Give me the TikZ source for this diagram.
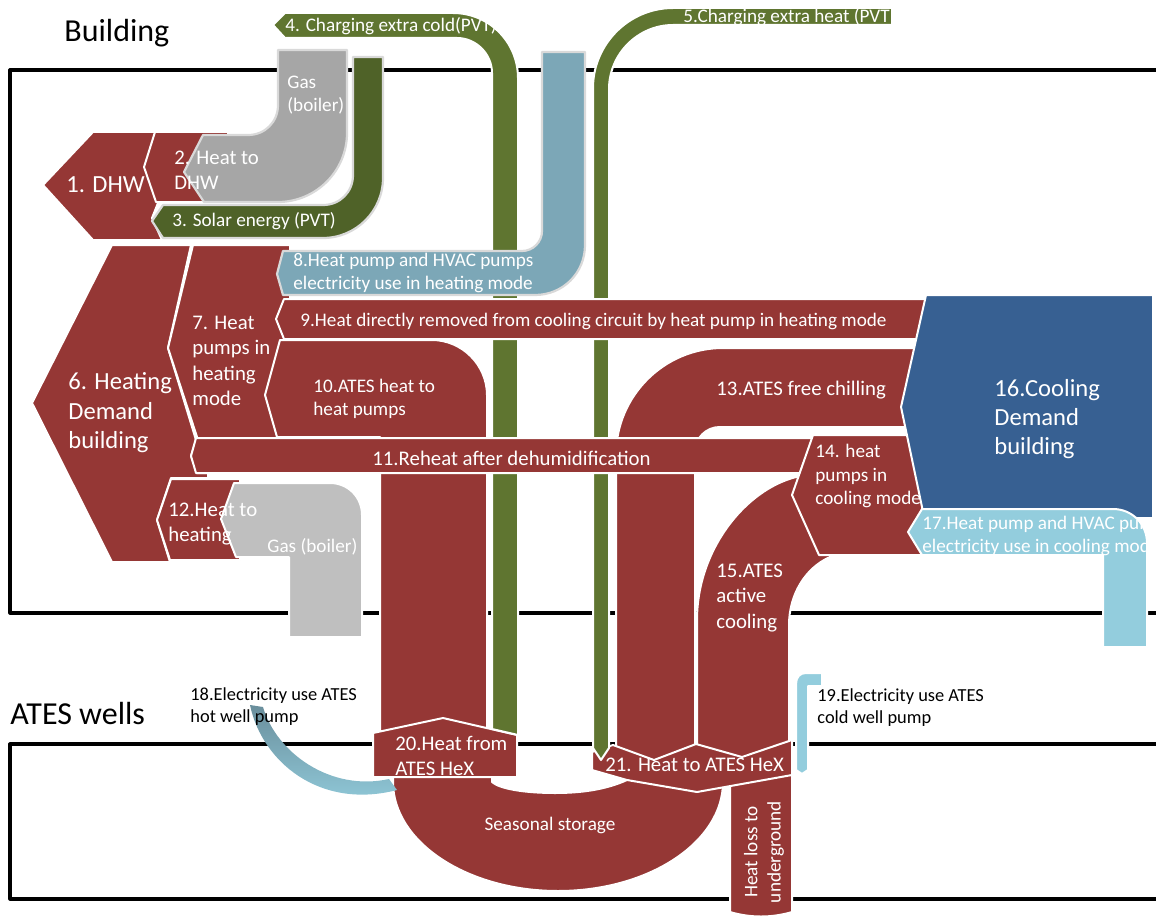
\documentclass[tikz,border=0pt]{standalone}
\usepackage{fontspec}
\setmainfont{Carlito}
\definecolor{heat}{HTML}{953735}
\definecolor{pvt}{HTML}{5F7530}
\definecolor{pvtdark}{HTML}{4F6228}
\definecolor{gastop}{HTML}{A6A6A6}
\definecolor{gaslow}{HTML}{BFBFBF}
\definecolor{elec}{HTML}{7CA7B7}
\definecolor{elecl}{HTML}{93CDDD}
\definecolor{cool}{HTML}{376092}
\tikzset{
  frame/.style={draw=black, line width=1.6pt},
  flow/.style={draw=white, line width=1pt},
  glow/.style={draw=black!15, line width=1.1pt},
  labS/.style={text=white, inner sep=0pt, anchor=west, align=left, font=\fontsize{9.6}{11.6}\selectfont},
  labM/.style={text=white, inner sep=0pt, anchor=west, align=left, font=\fontsize{10.4}{12.7}\selectfont},
  labL/.style={text=white, inner sep=0pt, anchor=west, align=left, font=\fontsize{12.3}{14.7}\selectfont},
  labN/.style={text=black, inner sep=0pt, anchor=west, align=left, font=\fontsize{9.2}{11}\selectfont},
  zone/.style={text=black, inner sep=0pt, anchor=west, font=\fontsize{16}{19}\selectfont}
}
\begin{document}
\begin{tikzpicture}[x=0.5pt, y=-0.5pt, line join=round]
\useasboundingbox (0,0) rectangle (1156,920);
% building and ATES frames
\draw[frame] (1156,70) -- (10,70) -- (10,613) -- (1156,613);
\draw[frame] (1156,744) -- (10,744) -- (10,899) -- (1156,899);

% heating side
\fill[heat, flow] (112,245) -- (191,245) -- (168,348) -- (196,440) -- (191,456) -- (197,473) -- (208,473) -- (208,478) -- (171,478) -- (157,520) -- (170,562) -- (112,562) -- (32,403) -- cycle;
\fill[heat, flow] (193,245) -- (290,245) -- (290,438) -- (198,440) -- (168,348) -- cycle;
\fill[heat, flow] (280,340) -- (432,340) .. controls (462,340) and (487,365) .. (487,395) -- (487,745) -- (380,745) -- (380,437) -- (277,437) -- (265,395) -- cycle;

% ATES columns of the cooling side
\fill[heat, flow] (930,348) -- (723,348) .. controls (664,348) and (616,396) .. (616,455) -- (616,768) -- (695,768) -- (695,452) .. controls (695,438) and (706,427) .. (720,427) -- (930,427) -- cycle;
\fill[heat, flow] (697,768) -- (697,620) .. controls (697,550) and (745,490) .. (796,477) -- (830,477) -- (830,557) .. controls (805,568) and (789,595) .. (789,625) -- (789,768) -- cycle;

% wells
\fill[heat, flow] (730,770) -- (730,912) .. controls (750,918) and (772,918) .. (792,912) -- (792,770) -- cycle;
\fill[heat, flow] (393,770) -- (393,782) .. controls (393,842) and (467,891) .. (558,891) .. controls (649,891) and (723,842) .. (723,782) -- (723,770) -- (627,770) -- (627,780) .. controls (605,790) and (580,793) .. (555,793) .. controls (525,793) and (500,789) .. (492,782) -- (492,770) -- cycle;
\fill[heat, flow] (592,752) -- (613,745) -- (654,760) -- (696,744) -- (742,757) -- (792,740) -- (792,775) -- (697,792) -- (627,780) -- (592,770) -- cycle;
\fill[heat, flow] (373,733) -- (443,718) -- (517,735) -- (517,777) -- (373,777) -- cycle;

% PVT charging
\fill[pvt, flow] (273,25) -- (285,13) -- (453,13) .. controls (489,13) and (518,42) .. (518,78) -- (518,735) -- (492,729) -- (492,73) .. controls (492,54) and (476,38) .. (457,38) -- (285,38) -- cycle;
\fill[pvt, flow] (892,8) -- (673,8) .. controls (629,8) and (593,44) .. (593,88) -- (593,748) -- (601,760) -- (609,748) -- (609,89) .. controls (609,54) and (638,25) .. (673,25) -- (892,25) -- cycle;

% electricity, heating mode
\fill[elec, glow] (542,52) -- (585,52) -- (585,245) .. controls (585,273) and (563,295) .. (535,295) -- (283,295) -- (277,274) -- (283,251) -- (522,251) .. controls (533,251) and (542,242) .. (542,231) -- cycle;

\fill[heat, flow] (284,299) -- (935,299) -- (935,339) -- (284,339) -- (276,319) -- cycle;
\fill[heat, flow] (196,438) -- (813,438) -- (800,473) -- (196,473) -- (191,456) -- cycle;
\fill[heat, flow] (171,479) -- (240,479) -- (240,560) -- (170,560) -- (157,520) -- cycle;
\fill[gaslow, flow] (234,483) -- (330,483) .. controls (348,483) and (362,497) .. (362,515) -- (362,637) -- (289,637) -- (289,557) -- (236,557) -- (221,519) -- cycle;

% cooling side
\fill[heat, flow] (813,435) -- (935,435) -- (935,555) -- (819,555) -- (792,495) -- cycle;
\fill[cool, flow] (926,295) -- (1153,295) -- (1153,518) -- (922,518) -- (922,507) -- (901,407) -- cycle;
\fill[elecl, flow] (922,509) -- (1113,509) .. controls (1132,509) and (1147,524) .. (1147,543) -- (1147,647) -- (1103,647) -- (1103,555) -- (922,555) -- (908,532) -- cycle;

% DHW
\fill[heat, flow] (43,185) -- (93,132) -- (156,132) -- (146,167) -- (158,203) -- (152,218) -- (162,240) -- (93,240) -- cycle;
\fill[heat, flow] (155,132) -- (228,132) -- (228,202) -- (156,202) -- (144,167) -- cycle;
\fill[pvtdark, glow] (163,205) -- (323,205) .. controls (340,205) and (353,192) .. (353,175) -- (353,57) -- (383,57) -- (383,178) .. controls (383,211) and (356,238) .. (323,238) -- (163,238) -- (152,221) -- cycle;
\fill[gastop, glow] (278,50) -- (347,50) -- (347,133) .. controls (347,171) and (316,202) .. (278,202) -- (204,202) -- (184,172) -- (203,135) -- (248,135) .. controls (265,135) and (278,122) .. (278,105) -- cycle;

% well pumps
\shade[top color=elec!85!black, bottom color=elecl] (250,705) .. controls (262,762) and (320,810) .. (397,790) -- (389,779) .. controls (330,792) and (276,752) .. (263,707) -- cycle;
\fill[elecl, flow] (796,770) -- (796,684) .. controls (796,677) and (800,673) .. (806,673) -- (822,673) -- (822,686) -- (808,686) -- (808,770) -- (802,774) -- cycle;

% labels
\node[zone] (building) at (64,33) {Building};
\node[zone] (wells) at (10,714) {ATES wells};
\node[labL] (dhw) at (66,185) {1. DHW};
\node[labM] (heatdhw) at (174,170) {2. Heat to\\DHW};
\node[labS] (solar) at (172,221) {3. Solar energy (PVT)};
\node[labS] (gasdhw) at (287,95) {Gas\\(boiler)};
\node[labS] (cold) at (285,26) {4. Charging extra cold(PVT)};
\node[labS] (hot) at (683,17) {5.Charging extra heat (PVT};
\node[labL] (heatdem) at (68,413) {6. Heating\\Demand\\building};
\node[labM] (hpheat) at (192,361) {7. Heat\\pumps in\\heating\\mode};
\node[labS] (elheat) at (293,273) {8.Heat pump and HVAC pumps\\electricity use in heating mode};
\node[labS] (direct) at (300,321) {9.Heat directly removed from cooling circuit by heat pump in heating mode};
\node[labS] (atesheat) at (313,399) {10.ATES heat to\\heat pumps};
\node[labM] (reheat) at (372,458) {11.Reheat after dehumidification};
\node[labM] (heating) at (168,524) {12.Heat to\\heating};
\node[labS] (gasheat) at (267,547) {Gas (boiler)};
\node[labM] (chill) at (716,390) {13.ATES free chilling};
\node[labS] (hpcool) at (815,476) {14. heat\\pumps in\\cooling mode};
\node[labM] (active) at (716,598) {15.ATES\\active\\cooling};
\node[labL] (cooldem) at (994,419) {16.Cooling\\Demand\\building};
\node[labS] (elcool) at (922,536) {17.Heat pump and HVAC pumps\\electricity use in cooling mode};
\node[labN] (hotpump) at (190,707) {18.Electricity use ATES\\hot well pump};
\node[labN] (coldpump) at (817,708) {19.Electricity use ATES\\cold well pump};
\node[labM] (hexfrom) at (395,756) {20.Heat from\\ATES HeX};
\node[labM] (hexto) at (605,765) {21. Heat to ATES HeX};
\node[labS, anchor=center] (storage) at (550,825) {Seasonal storage};
\node[labS, anchor=center, align=center, rotate=90] (loss) at (764,852) {Heat loss to\\underground};
\end{tikzpicture}
\end{document}
